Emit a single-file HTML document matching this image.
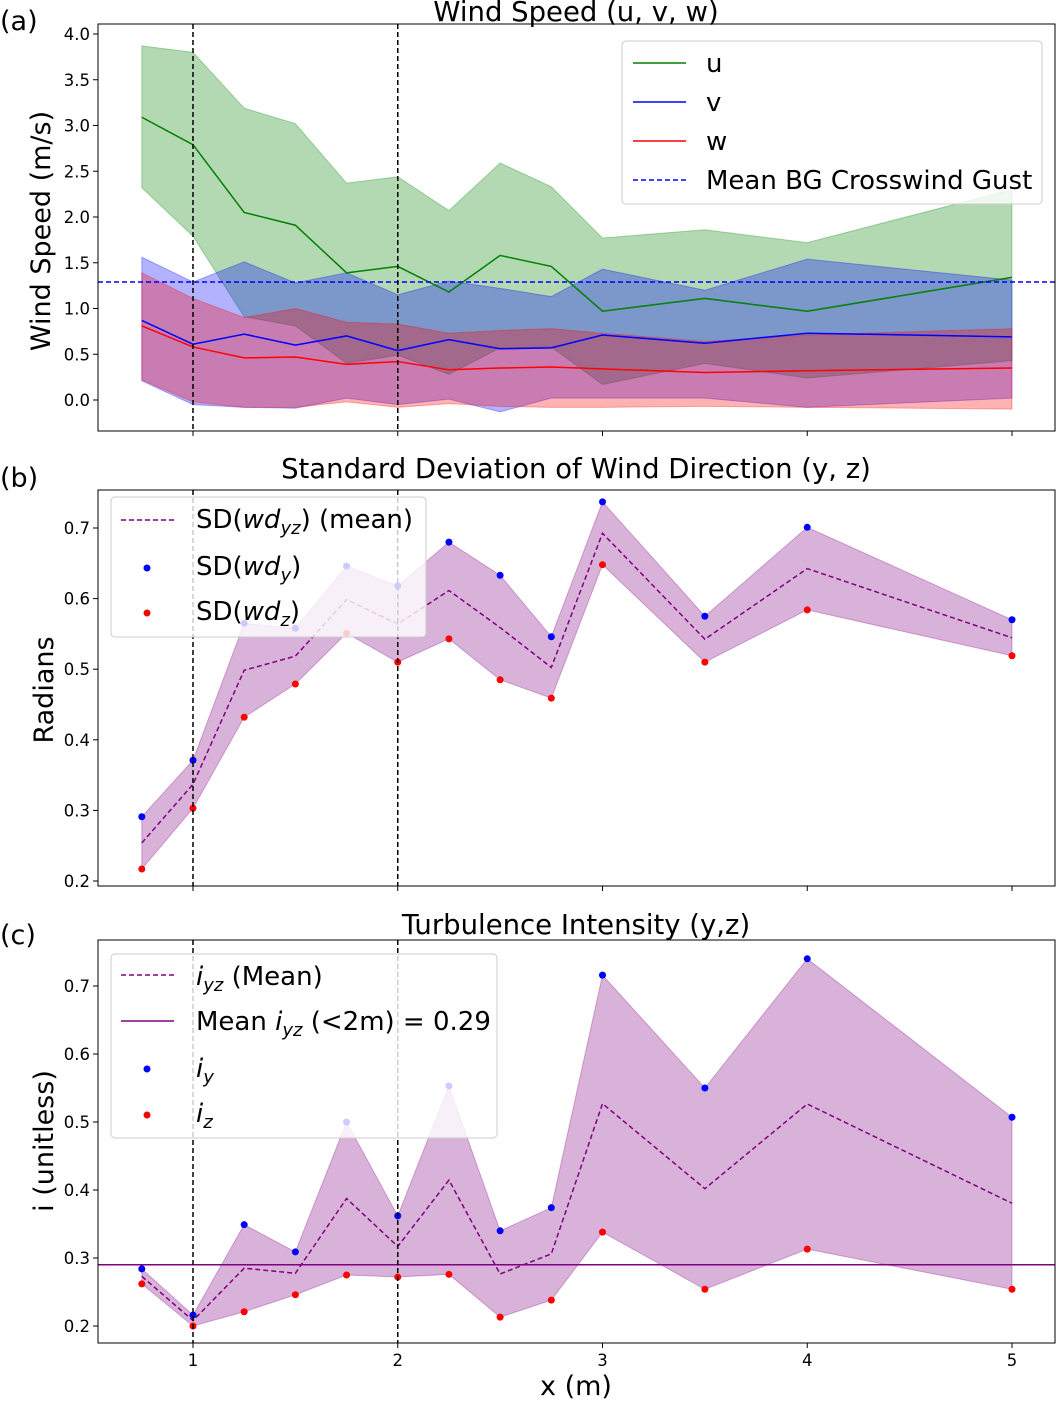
<!DOCTYPE html>
<html><head><meta charset="utf-8"><style>
body{margin:0;background:#fff}
svg{font-family:"DejaVu Sans","Liberation Sans",sans-serif}
</style></head><body>
<svg id="chart" width="1056" height="1400" xmlns="http://www.w3.org/2000/svg"></svg>
<script>
const xs=[0.75,1,1.25,1.5,1.75,2,2.25,2.5,2.75,3,3.5,4,5];
const uMean=[3.09,2.79,2.05,1.91,1.39,1.46,1.18,1.58,1.46,0.97,1.11,0.97,1.34];
const uUp=[3.87,3.8,3.19,3.02,2.37,2.44,2.07,2.59,2.33,1.77,1.86,1.72,2.3];
const uLo=[2.32,1.79,0.91,0.81,0.4,0.49,0.28,0.57,0.58,0.17,0.4,0.24,0.43];
const vMean=[0.87,0.61,0.72,0.6,0.7,0.54,0.66,0.56,0.57,0.71,0.62,0.73,0.69];
const vUp=[1.56,1.29,1.51,1.28,1.39,1.15,1.3,1.22,1.13,1.43,1.2,1.54,1.31];
const vLo=[0.21,-0.05,-0.08,-0.09,0.02,-0.05,0.01,-0.13,0.02,0.02,0.02,-0.08,0.02];
const wMean=[0.81,0.58,0.46,0.47,0.39,0.42,0.33,0.35,0.36,0.34,0.3,0.32,0.35];
const wUp=[1.39,1.11,0.9,1.0,0.85,0.83,0.73,0.76,0.78,0.73,0.64,0.71,0.78];
const wLo=[0.22,-0.02,-0.08,-0.08,-0.02,-0.08,-0.04,-0.07,-0.08,-0.08,-0.07,-0.08,-0.1];
const bgGust=1.29;
const sdY=[0.291,0.371,0.565,0.558,0.646,0.618,0.68,0.633,0.546,0.737,0.575,0.701,0.57];
const sdZ=[0.217,0.303,0.432,0.479,0.551,0.51,0.543,0.485,0.459,0.648,0.51,0.584,0.519];
const iY=[0.284,0.216,0.349,0.309,0.5,0.362,0.553,0.34,0.374,0.716,0.55,0.74,0.507];
const iZ=[0.262,0.2,0.221,0.246,0.275,0.272,0.276,0.213,0.238,0.338,0.254,0.313,0.254];
const iMeanLow=0.29;
const ticksA=[0,0.5,1,1.5,2,2.5,3,3.5,4];
const ticksB=[0.2,0.3,0.4,0.5,0.6,0.7];
const ticksC=[0.2,0.3,0.4,0.5,0.6,0.7];
const ticksX=[1,2,3,4,5];

const svg=document.getElementById('chart');
const NS='http://www.w3.org/2000/svg';
function el(tag,attrs,parent){const e=document.createElementNS(NS,tag);for(const k in attrs)e.setAttribute(k,attrs[k]);(parent||svg).appendChild(e);return e;}
function txt(s,attrs,parent){const e=el('text',attrs,parent);e.textContent=s;return e;}
const X=v=>193+(v-1)*204.75;
const L=98,R=1055;
function mkY(v0,y0,v1,y1){return v=>y0+(v-v0)*(y1-y0)/(v1-v0);}
const YA=mkY(0,400,4,34), YB=mkY(0.2,881,0.7,528), YC=mkY(0.2,1326,0.7,986);
function band(up,lo,Y,fill,op,name){
  let d='M'+xs.map((x,i)=>X(x)+','+Y(up[i])).join('L');
  d+='L'+xs.slice().reverse().map((x,j)=>X(x)+','+Y(lo[xs.length-1-j])).join('L')+'Z';
  const p=el('path',{d:d,fill:fill,'fill-opacity':op,stroke:fill,'stroke-opacity':op,'stroke-width':1});
  
  
}
function line(vals,Y,color,dash,name){
  const p=el('polyline',{points:xs.map((x,i)=>X(x)+','+Y(vals[i])).join(' '),fill:'none',stroke:color,'stroke-width':1.5,'stroke-dasharray':dash||'none'});
  
  
}
function dots(vals,Y,color,name){
  vals.forEach((v,i)=>{const c=el('circle',{cx:X(xs[i]),cy:Y(v),r:3.5,fill:color});
  
  });
}
function frame(top,bot,Y,ticks,fmt,showX,name){
  const g=el('g',{});
  
  
  [1,2].forEach(v=>el('line',{x1:X(v),x2:X(v),y1:top,y2:bot,stroke:'#000','stroke-width':1.5,'stroke-dasharray':'5,3'},g));
  ticks.forEach(t=>{el('line',{x1:L-5,x2:L,y1:Y(t),y2:Y(t),stroke:'#000'},g);
    txt(fmt(t),{x:L-8,y:Y(t)+6,'font-size':16.5,'text-anchor':'end'},g);});
  ticksX.forEach(t=>{el('line',{x1:X(t),x2:X(t),y1:bot,y2:bot+5,stroke:'#000'},g);
    if(showX)txt(String(t),{x:X(t),y:bot+23,'font-size':16.5,'text-anchor':'middle'},g);});
  el('rect',{x:L,y:top,width:R-L,height:bot-top,fill:'none',stroke:'#000','stroke-width':1},g);
}
function legendBox(x,y,w,h,name){const r=el('rect',{x:x,y:y,width:w,height:h,rx:4,fill:'#fff','fill-opacity':0.8,stroke:'#ccc'});
  
  }

// Panel A
band(uUp,uLo,YA,'green',0.3,'u-band');
band(vUp,vLo,YA,'blue',0.3,'v-band');
band(wUp,wLo,YA,'red',0.3,'w-band');
line(uMean,YA,'green','','u-line');
line(vMean,YA,'blue','','v-line');
line(wMean,YA,'red','','w-line');
const g1=el('line',{x1:L,x2:R,y1:YA(bgGust),y2:YA(bgGust),stroke:'blue','stroke-width':1.5,'stroke-dasharray':'5,3'});


frame(24,431,YA,ticksA,t=>t.toFixed(1),false,'axes-a');
legendBox(622,41,420,163,'legend-a');
[['u','green',''],['v','blue',''],['w','red',''],['Mean BG Crosswind Gust','blue','5,3']].forEach((e,i)=>{
  const y=63+i*39;el('line',{x1:633,x2:686,y1:y,y2:y,stroke:e[1],'stroke-width':1.5,'stroke-dasharray':e[2]||'none'});
  txt(e[0],{x:706,y:y+9,'font-size':26});});
txt('Wind Speed (u, v, w)',{x:576,y:21,'font-size':27.5,'text-anchor':'middle'});
txt('Wind Speed (m/s)',{x:50,y:231,'font-size':27,'text-anchor':'middle',transform:'rotate(-90 50 231)'});
txt('(a)',{x:0,y:30,'font-size':27});

// Panel B
band(sdY,sdZ,YB,'purple',0.3,'sd-band');
line(sdY.map((v,i)=>(v+sdZ[i])/2),YB,'purple','5,3','sd-mean-line');
dots(sdY,YB,'blue','sd-y-dot');
dots(sdZ,YB,'red','sd-z-dot');
frame(490,886,YB,ticksB,t=>t.toFixed(1),false,'axes-b');
legendBox(111,497,315,140,'legend-b');
el('line',{x1:121,x2:174,y1:520,y2:520,stroke:'purple','stroke-width':1.5,'stroke-dasharray':'5,3'});
el('circle',{cx:147,cy:568,r:3.5,fill:'blue'});el('circle',{cx:147,cy:613,r:3.5,fill:'red'});
const lb=[['SD(','yz',') (mean)',528],['SD(','y',')',575],['SD(','z',')',620]];
lb.forEach(e=>{const t=el('text',{x:196,y:e[3],'font-size':26});
  t.innerHTML=e[0]+'<tspan font-style="italic">wd</tspan><tspan font-style="italic" font-size="18" dy="6">'+e[1]+'</tspan><tspan dy="-6">'+e[2]+'</tspan>';});
txt('Standard Deviation of Wind Direction (y, z)',{x:576,y:478,'font-size':27.5,'text-anchor':'middle'});
txt('Radians',{x:53,y:690,'font-size':27,'text-anchor':'middle',transform:'rotate(-90 53 690)'});
txt('(b)',{x:0,y:487,'font-size':27});

// Panel C
band(iY,iZ,YC,'purple',0.3,'i-band');
line(iY.map((v,i)=>(v+iZ[i])/2),YC,'purple','5,3','i-mean-line');
const ml=el('line',{x1:L,x2:R,y1:YC(iMeanLow),y2:YC(iMeanLow),stroke:'purple','stroke-width':1.5});


dots(iY,YC,'blue','i-y-dot');
dots(iZ,YC,'red','i-z-dot');
frame(940,1343,YC,ticksC,t=>t.toFixed(1),true,'axes-c');
legendBox(111,954,386,184,'legend-c');
el('line',{x1:121,x2:174,y1:975,y2:975,stroke:'purple','stroke-width':1.5,'stroke-dasharray':'5,3'});
el('line',{x1:121,x2:174,y1:1021,y2:1021,stroke:'purple','stroke-width':1.5});
el('circle',{cx:147,cy:1069,r:3.5,fill:'blue'});el('circle',{cx:147,cy:1115,r:3.5,fill:'red'});
let t1=el('text',{x:196,y:985,'font-size':26});t1.innerHTML='<tspan font-style="italic">i</tspan><tspan font-style="italic" font-size="18" dy="6">yz</tspan><tspan dy="-6"> (Mean)</tspan>';
let t2=el('text',{x:196,y:1030,'font-size':26});t2.innerHTML='Mean <tspan font-style="italic">i</tspan><tspan font-style="italic" font-size="18" dy="6">yz</tspan><tspan dy="-6"> (&lt;2m) = 0.29</tspan>';
let t3=el('text',{x:196,y:1077,'font-size':26});t3.innerHTML='<tspan font-style="italic">i</tspan><tspan font-style="italic" font-size="18" dy="6">y</tspan>';
let t4=el('text',{x:196,y:1122,'font-size':26});t4.innerHTML='<tspan font-style="italic">i</tspan><tspan font-style="italic" font-size="18" dy="6">z</tspan>';
txt('Turbulence Intensity (y,z)',{x:576,y:934,'font-size':27.5,'text-anchor':'middle'});
txt('i (unitless)',{x:53,y:1141,'font-size':27,'text-anchor':'middle',transform:'rotate(-90 53 1141)'});
txt('(c)',{x:0,y:944,'font-size':27});
txt('x (m)',{x:576,y:1395,'font-size':27,'text-anchor':'middle'});
</script>
</body></html>
